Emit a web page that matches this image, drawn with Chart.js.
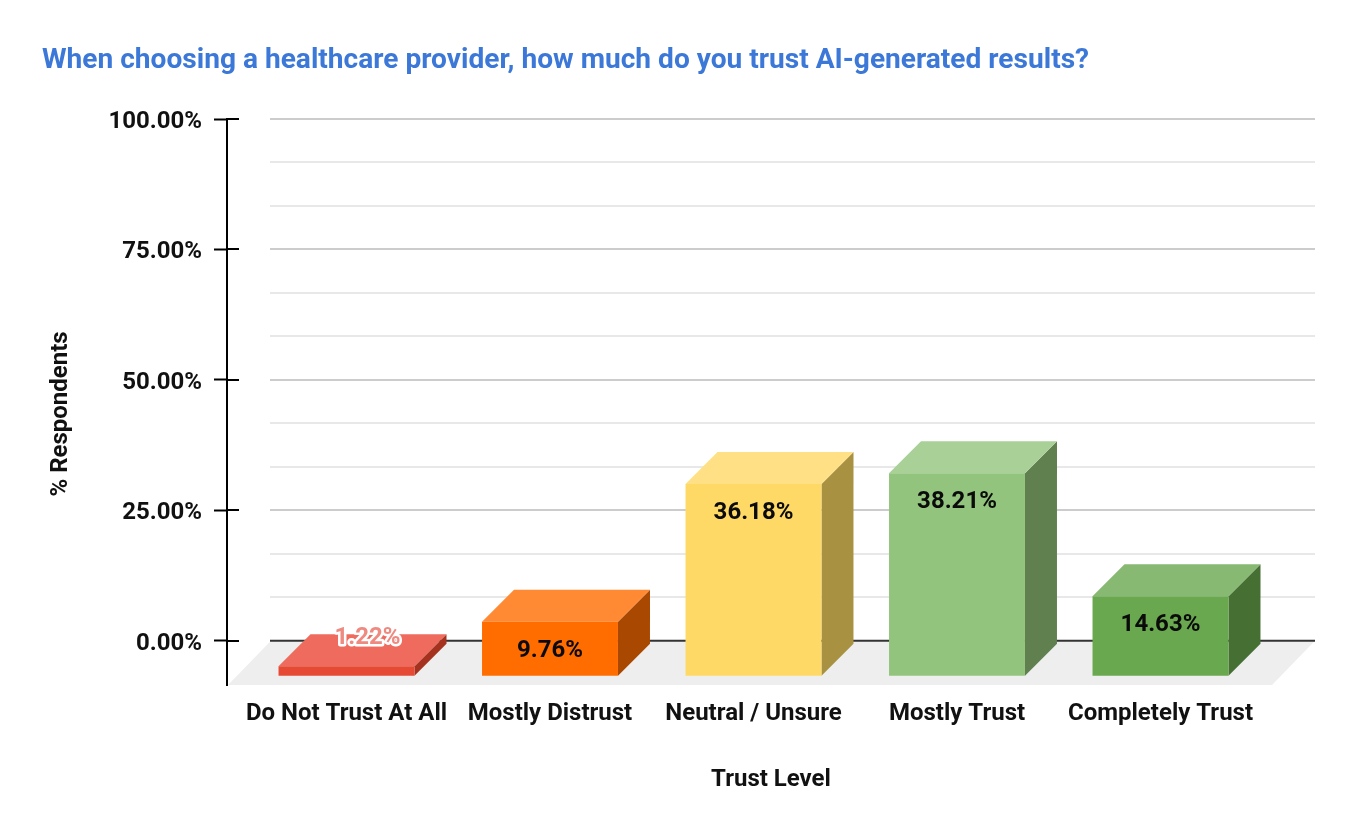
<!DOCTYPE html>
<html><head><meta charset="utf-8">
<style>html,body{margin:0;padding:0;background:#fff}canvas{display:block}</style>
<script src="https://cdn.jsdelivr.net/npm/chart.js@4/dist/chart.umd.min.js"></script>
</head><body><canvas id="c" width="1356" height="834"></canvas>
<script>
const categories = ['Do Not Trust At All','Mostly Distrust','Neutral / Unsure','Mostly Trust','Completely Trust'];
const respondents = [1.22, 9.76, 36.18, 38.21, 14.63];
const valueLabels = ['1.22%','9.76%','36.18%','38.21%','14.63%'];
const majorTicks = [0, 25, 50, 75, 100];
const minorTicks = [8.33, 16.67, 33.33, 41.67, 58.33, 66.67, 83.33, 91.67];
const frontColors = ['#e64a35','#ff6d01','#ffd966','#93c47d','#6aa84f'];
const topColors   = ['#ee6b5e','#ff8a33','#ffe085','#a9d097','#88b972'];
const sideColors  = ['#a5321f','#a94800','#a89140','#618050','#466f34'];
const FONT = 'Roboto';
const DEPTH = 32;

class InsetCategory extends Chart.CategoryScale {
  configure() {
    super.configure();
    const o = this.options.inset;
    this._startPixel = this.left + o.start;
    this._endPixel = this.right - o.end;
    this._length = this._endPixel - this._startPixel;
  }
}
InsetCategory.id = 'insetCategory';
InsetCategory.defaults = Chart.CategoryScale.defaults;
Chart.register(InsetCategory);

const scene = {
  id: 'scene',
  beforeDatasetsDraw(chart) {
    const {ctx} = chart, y = chart.scales.y;
    ctx.save();
    [...minorTicks, ...majorTicks].forEach(v => {
      const p = Math.round(y.getPixelForValue(v));
      const major = majorTicks.includes(v);
      ctx.strokeStyle = major ? '#cccccc' : '#e8e8e8';
      ctx.lineWidth = 2;
      if (v !== 0) { ctx.beginPath(); ctx.moveTo(270, p); ctx.lineTo(1315, p); ctx.stroke(); }
    });
    const y0 = y.getPixelForValue(0), yb = chart.chartArea.bottom;
    ctx.fillStyle = '#eeeeee';
    ctx.beginPath();
    ctx.moveTo(271, y0); ctx.lineTo(1315, y0); ctx.lineTo(1272, yb); ctx.lineTo(228, yb); ctx.closePath();
    ctx.fill();
    ctx.strokeStyle = '#333333'; ctx.lineWidth = 2;
    ctx.beginPath(); ctx.moveTo(270, y0); ctx.lineTo(1315, y0); ctx.stroke();
    // right half of the axis tick marks
    ctx.strokeStyle = '#000';
    majorTicks.forEach(v => {
      const p = Math.round(y.getPixelForValue(v));
      ctx.beginPath(); ctx.moveTo(227, p); ctx.lineTo(239, p); ctx.stroke();
    });
    ctx.restore();
  },
  beforeDatasetDraw(chart, args) {
    const {ctx} = chart;
    ctx.save();
    chart.getDatasetMeta(args.index).data.forEach((bar, i) => {
      const l = bar.x - bar.width / 2, r = bar.x + bar.width / 2;
      ctx.fillStyle = sideColors[i];
      ctx.beginPath();
      ctx.moveTo(r, bar.y + DEPTH); ctx.lineTo(r + DEPTH, bar.y);
      ctx.lineTo(r + DEPTH, bar.base); ctx.lineTo(r, bar.base + DEPTH); ctx.closePath(); ctx.fill();
      ctx.fillStyle = topColors[i];
      ctx.beginPath();
      ctx.moveTo(l, bar.y + DEPTH); ctx.lineTo(l + DEPTH, bar.y);
      ctx.lineTo(r + DEPTH, bar.y); ctx.lineTo(r, bar.y + DEPTH); ctx.closePath(); ctx.fill();
    });
    ctx.translate(0, DEPTH);
  },
  afterDatasetDraw(chart) { chart.ctx.restore(); },
  afterDatasetsDraw(chart) {
    const {ctx} = chart;
    ctx.save();
    ctx.font = `bold 24px ${FONT}`;
    ctx.textAlign = 'center'; ctx.textBaseline = 'middle';
    chart.getDatasetMeta(0).data.forEach((bar, i) => {
      if (i === 0) {
        const x = bar.x + 21, yy = bar.y + 4;
        ctx.lineJoin = 'round'; ctx.lineWidth = 5; ctx.strokeStyle = '#ffffff';
        ctx.strokeText(valueLabels[i], x, yy);
        ctx.fillStyle = '#ee8a80';
        ctx.fillText(valueLabels[i], x, yy);
      } else {
        ctx.fillStyle = '#0b0b0b';
        ctx.fillText(valueLabels[i], bar.x, bar.y + DEPTH + 29);
      }
    });
    ctx.restore();
  }
};

new Chart(document.getElementById('c'), {
  type: 'bar',
  data: { labels: categories, datasets: [{
    label: '% Respondents',
    data: respondents,
    base: -0.57,
    backgroundColor: frontColors,
    borderWidth: 0,
    barPercentage: 0.668,
    categoryPercentage: 1,
    clip: false
  }]},
  plugins: [scene],
  options: {
    responsive: false,
    animation: false,
    devicePixelRatio: 1,
    layout: { padding: { left: 42, right: 41, top: 44, bottom: 39 } },
    plugins: {
      legend: { display: false },
      tooltip: { enabled: false },
      title: {
        display: true, text: 'When choosing a healthcare provider, how much do you trust AI-generated results?',
        align: 'start', color: '#3c78d8',
        font: { family: FONT, size: 28.1, weight: 'bold' },
        padding: { top: 0, bottom: 41.28 }
      }
    },
    scales: {
      x: {
        type: 'insetCategory',
        inset: { start: 17.75, end: 52.75 },
        offset: true,
        border: { display: false },
        grid: { display: false, drawTicks: false },
        ticks: { color: '#111', padding: 15, maxRotation: 0, autoSkip: false,
                 font: { family: FONT, size: 24, weight: 'bold' } },
        title: { display: true, text: 'Trust Level', color: '#111',
                 font: { family: FONT, size: 24, weight: 'bold' }, padding: { top: 0, bottom: 1 } },
        afterFit(s) { s.height = 110; }
      },
      y: {
        min: -8.5, max: 100,
        afterBuildTicks(s) {
          s.ticks = [...majorTicks].sort((a, b) => a - b).map(v => ({ value: v }));
        },
        border: { display: true, color: '#000', width: 2 },
        grid: { drawOnChartArea: false, drawTicks: true, tickLength: 13, tickColor: '#000', tickWidth: 2 },
        ticks: { color: '#111', padding: 12, autoSkip: false, labelOffset: 3,
                 font: { family: FONT, size: 24, weight: 'bold' },
                 callback: v => v.toFixed(2) + '%' },
        title: { display: true, text: '% Respondents    ', color: '#111',
                 font: { family: FONT, size: 24, weight: 'bold' }, padding: { top: 5, bottom: 0 } },
        afterFit(s) { s.width = 185; }
      }
    }
  }
});
</script></body></html>
